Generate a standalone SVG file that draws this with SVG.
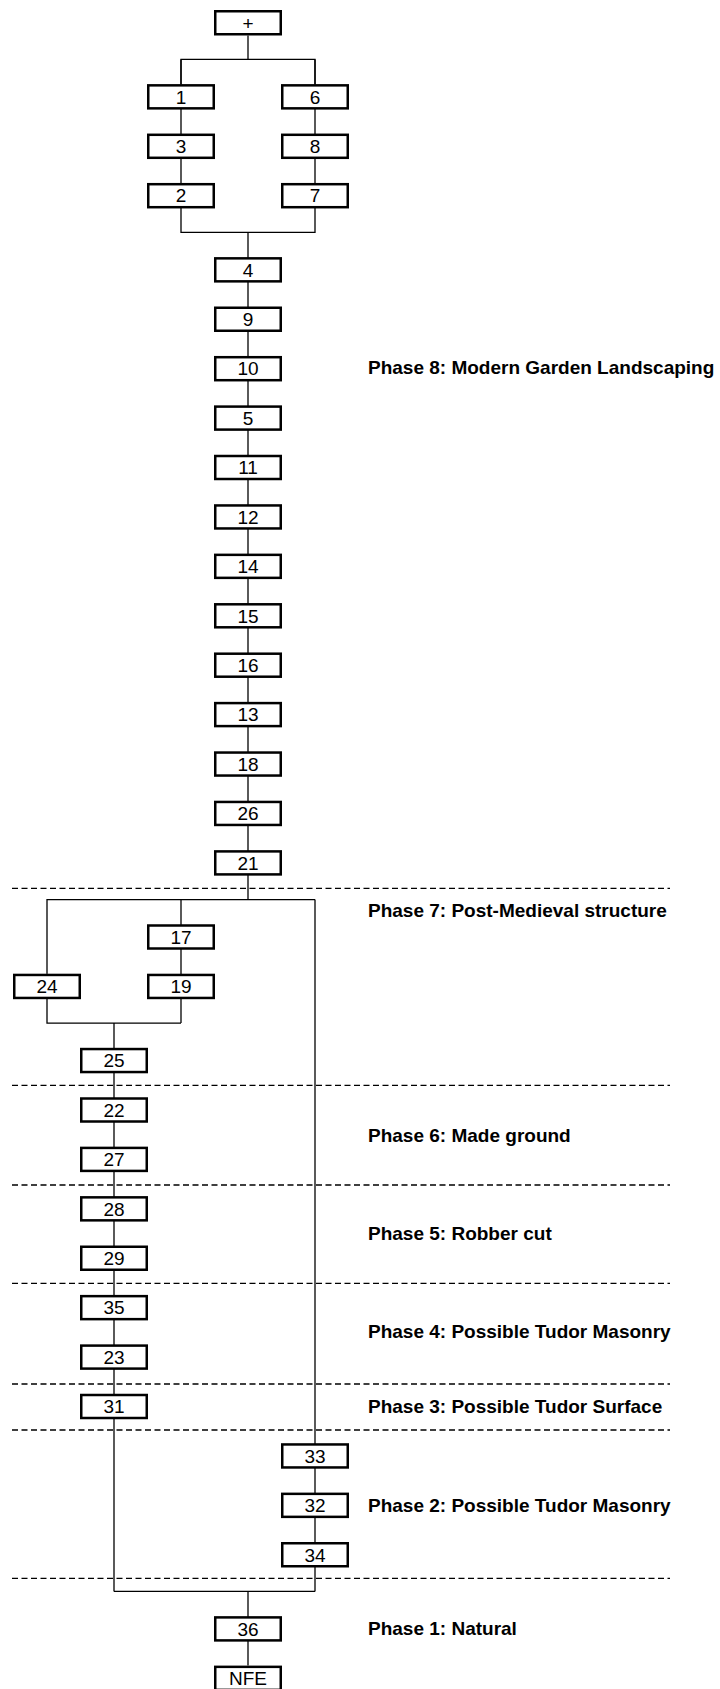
<svg xmlns="http://www.w3.org/2000/svg" width="720" height="1689" viewBox="0 0 720 1689">
<style>
.bg{fill:#ffffff}
.box{fill:#ffffff;stroke:#000000;stroke-width:2.5}
.lbl{font-family:"Liberation Sans",Arial,sans-serif;font-size:19px;fill:#000000;text-anchor:middle}
.phase{font-family:"Liberation Sans",Arial,sans-serif;font-size:19px;font-weight:bold;fill:#000000}
.conn{fill:none;stroke:#000000;stroke-width:1.3}
.sep{fill:none;stroke:#000000;stroke-width:1.3;stroke-dasharray:6 3.5}
</style>
<rect class="bg" x="0" y="0" width="720" height="1689"/>
<g id="separators">
<path class="sep" d="M12 888.3H670"/>
<path class="sep" d="M12 1085.3H670"/>
<path class="sep" d="M12 1185H670"/>
<path class="sep" d="M12 1283.3H670"/>
<path class="sep" d="M12 1384H670"/>
<path class="sep" d="M12 1430H670"/>
<path class="sep" d="M12 1578.3H670"/>
</g>
<g id="connectors">
<path class="conn" d="M248 35.5V59.4"/>
<path class="conn" d="M181 84.1V59.4H315V84.1"/>
<path class="conn" d="M181 59.4V232.4H315V59.4"/>
<path class="conn" d="M248 232.4V899.6"/>
<path class="conn" d="M47 973.7V899.6H315"/>
<path class="conn" d="M181 899.6V1023.1"/>
<path class="conn" d="M47 973.7V1023.1H181"/>
<path class="conn" d="M114 1023.1V1591.4"/>
<path class="conn" d="M315 899.6V1591.4"/>
<path class="conn" d="M114 1591.4H315"/>
<path class="conn" d="M248 1591.4V1665.6"/>
</g>
<g id="node-plus"><rect class="box" x="215.25" y="11.25" width="65.5" height="23"/><text class="lbl" x="248" y="29.5">+</text></g>
<g id="node-1"><rect class="box" x="148.25" y="85.35" width="65.5" height="23"/><text class="lbl" x="181" y="103.6">1</text></g>
<g id="node-6"><rect class="box" x="282.25" y="85.35" width="65.5" height="23"/><text class="lbl" x="315" y="103.6">6</text></g>
<g id="node-3"><rect class="box" x="148.25" y="134.8" width="65.5" height="23"/><text class="lbl" x="181" y="153.05">3</text></g>
<g id="node-8"><rect class="box" x="282.25" y="134.8" width="65.5" height="23"/><text class="lbl" x="315" y="153.05">8</text></g>
<g id="node-2"><rect class="box" x="148.25" y="184.2" width="65.5" height="23"/><text class="lbl" x="181" y="202.45">2</text></g>
<g id="node-7"><rect class="box" x="282.25" y="184.2" width="65.5" height="23"/><text class="lbl" x="315" y="202.45">7</text></g>
<g id="node-4"><rect class="box" x="215.25" y="258.35" width="65.5" height="23"/><text class="lbl" x="248" y="276.6">4</text></g>
<g id="node-9"><rect class="box" x="215.25" y="307.75" width="65.5" height="23"/><text class="lbl" x="248" y="326">9</text></g>
<g id="node-10"><rect class="box" x="215.25" y="357.2" width="65.5" height="23"/><text class="lbl" x="248" y="375.45">10</text></g>
<g id="node-5"><rect class="box" x="215.25" y="406.6" width="65.5" height="23"/><text class="lbl" x="248" y="424.85">5</text></g>
<g id="node-11"><rect class="box" x="215.25" y="456" width="65.5" height="23"/><text class="lbl" x="248" y="474.3">11</text></g>
<g id="node-12"><rect class="box" x="215.25" y="505.45" width="65.5" height="23"/><text class="lbl" x="248" y="523.7">12</text></g>
<g id="node-14"><rect class="box" x="215.25" y="554.85" width="65.5" height="23"/><text class="lbl" x="248" y="573.1">14</text></g>
<g id="node-15"><rect class="box" x="215.25" y="604.3" width="65.5" height="23"/><text class="lbl" x="248" y="622.55">15</text></g>
<g id="node-16"><rect class="box" x="215.25" y="653.7" width="65.5" height="23"/><text class="lbl" x="248" y="671.95">16</text></g>
<g id="node-13"><rect class="box" x="215.25" y="703.1" width="65.5" height="23"/><text class="lbl" x="248" y="721.4">13</text></g>
<g id="node-18"><rect class="box" x="215.25" y="752.55" width="65.5" height="23"/><text class="lbl" x="248" y="770.8">18</text></g>
<g id="node-26"><rect class="box" x="215.25" y="801.95" width="65.5" height="23"/><text class="lbl" x="248" y="820.2">26</text></g>
<g id="node-21"><rect class="box" x="215.25" y="851.4" width="65.5" height="23"/><text class="lbl" x="248" y="869.65">21</text></g>
<g id="node-17"><rect class="box" x="148.25" y="925.5" width="65.5" height="23"/><text class="lbl" x="181" y="943.75">17</text></g>
<g id="node-24"><rect class="box" x="14.25" y="974.95" width="65.5" height="23"/><text class="lbl" x="47" y="993.2">24</text></g>
<g id="node-19"><rect class="box" x="148.25" y="974.95" width="65.5" height="23"/><text class="lbl" x="181" y="993.2">19</text></g>
<g id="node-25"><rect class="box" x="81.25" y="1049.05" width="65.5" height="23"/><text class="lbl" x="114" y="1067.3">25</text></g>
<g id="node-22"><rect class="box" x="81.25" y="1098.5" width="65.5" height="23"/><text class="lbl" x="114" y="1116.75">22</text></g>
<g id="node-27"><rect class="box" x="81.25" y="1147.9" width="65.5" height="23"/><text class="lbl" x="114" y="1166.15">27</text></g>
<g id="node-28"><rect class="box" x="81.25" y="1197.35" width="65.5" height="23"/><text class="lbl" x="114" y="1215.6">28</text></g>
<g id="node-29"><rect class="box" x="81.25" y="1246.75" width="65.5" height="23"/><text class="lbl" x="114" y="1265">29</text></g>
<g id="node-35"><rect class="box" x="81.25" y="1296.15" width="65.5" height="23"/><text class="lbl" x="114" y="1314.4">35</text></g>
<g id="node-23"><rect class="box" x="81.25" y="1345.6" width="65.5" height="23"/><text class="lbl" x="114" y="1363.85">23</text></g>
<g id="node-31"><rect class="box" x="81.25" y="1395" width="65.5" height="23"/><text class="lbl" x="114" y="1413.25">31</text></g>
<g id="node-33"><rect class="box" x="282.25" y="1444.45" width="65.5" height="23"/><text class="lbl" x="315" y="1462.7">33</text></g>
<g id="node-32"><rect class="box" x="282.25" y="1493.85" width="65.5" height="23"/><text class="lbl" x="315" y="1512.1">32</text></g>
<g id="node-34"><rect class="box" x="282.25" y="1543.25" width="65.5" height="23"/><text class="lbl" x="315" y="1561.5">34</text></g>
<g id="node-36"><rect class="box" x="215.25" y="1617.4" width="65.5" height="23"/><text class="lbl" x="248" y="1635.65">36</text></g>
<g id="node-NFE"><rect class="box" x="215.25" y="1666.85" width="65.5" height="23"/><text class="lbl" x="248" y="1685.1">NFE</text></g>
<g id="phase-labels">
<text class="phase" x="368" y="374.3">Phase 8: Modern Garden Landscaping</text>
<text class="phase" x="368" y="916.7">Phase 7: Post-Medieval structure</text>
<text class="phase" x="368" y="1141.7">Phase 6: Made ground</text>
<text class="phase" x="368" y="1240">Phase 5: Robber cut</text>
<text class="phase" x="368" y="1338.3">Phase 4: Possible Tudor Masonry</text>
<text class="phase" x="368" y="1413.3">Phase 3: Possible Tudor Surface</text>
<text class="phase" x="368" y="1511.7">Phase 2: Possible Tudor Masonry</text>
<text class="phase" x="368" y="1635">Phase 1: Natural</text>
</g>
</svg>
